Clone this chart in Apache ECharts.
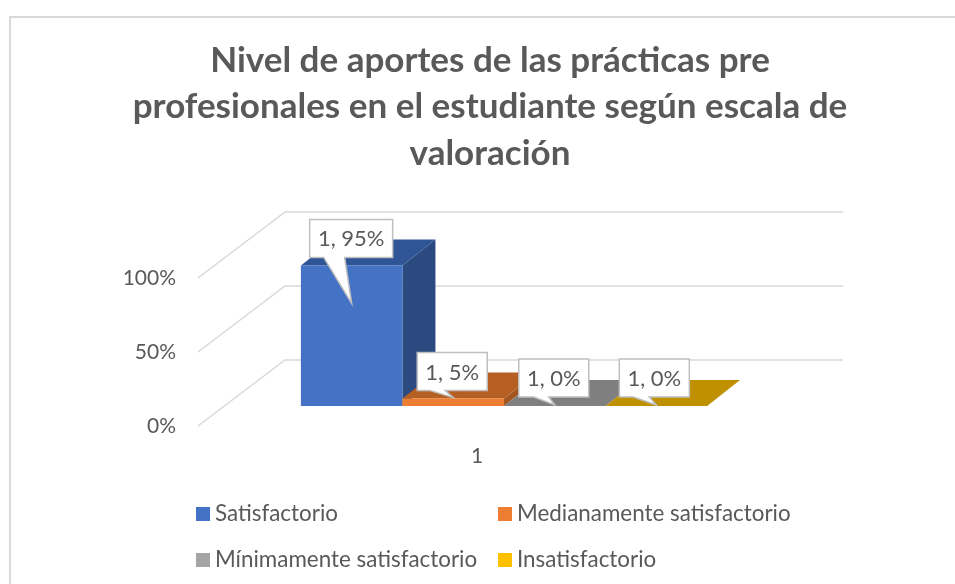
<!DOCTYPE html>
<html>
<head>
<meta charset="utf-8">
<style>
    html, body { margin: 0; padding: 0; background: #fff; overflow: hidden; }
    #chart { width: 955px; height: 584px; }
</style>
<script src="https://cdn.jsdelivr.net/npm/echarts@6/dist/echarts.min.js"></script>
</head>
<body>
<div id="chart"></div>
<script>
const titleText = 'Nivel de aportes de las prácticas pre\nprofesionales en el estudiante según escala de\nvaloración'
const categories = ['1']
const names = ['Satisfactorio', 'Medianamente satisfactorio', 'Mínimamente satisfactorio', 'Insatisfactorio']
const values = [95, 5, 0, 0]
const yTicks = [0, 50, 100]

// colores de cada cara: frente, tapa, lateral
const legendColors = ['#4472c4', '#ed7d31', '#a5a5a5', '#ffc000']
const frontColors = ['#4472c4', '#ed7d31', '#a5a5a5', '#ffc000']
const topColors = ['#2f5597', '#b65f22', '#7f7f7f', '#bf9000']
const sideColors = ['#2a4a80', '#a35620', '#6e6e6e', '#a67c00']

const textColor = '#595959'
const fontName = 'Lato'
const wall = { dx: 87, dy: -66 }   // fondo del piso
const barOffset = { dx: 27, dy: -20 }  // donde empiezan las barras
const barDepth = { dx: 33, dy: -26 }
const barRatio = 0.182
// globos: caida de la punta desde la tapa y caja relativa a la punta
const callouts = [
    { drop: 38, left: -42, top: -84, w: 83, h: 38, t0: -28, t1: -7 },
    { drop: -1, left: -36, top: -45, w: 70, h: 38, t0: -23, t1: -8 },
    { drop: -1, left: -36, top: -46, w: 70, h: 38, t0: -21, t1: -6 },
    { drop: -1, left: -37, top: -46, w: 70, h: 38, t0: -23, t1: -7 }
]

function wallItem(params, api) {
    const cs = params.coordSys
    const y = api.coord([0, api.value(1)])[1]
    return {
        type: 'polyline',
        shape: { points: [
            [cs.x, y],
            [cs.x + wall.dx, y + wall.dy],
            [cs.x + cs.width + wall.dx, y + wall.dy]
        ] },
        style: { stroke: '#d9d9d9', lineWidth: 1.5, fill: null }
    }
}

function barItem(idx) {
    return function (params, api) {
        const value = api.value(1)
        const band = api.size([1, 0])[0]
        const w = band * barRatio
        const c = api.coord([api.value(0), value])
        const base = api.coord([api.value(0), 0])
        const x0 = c[0] - 2 * w + idx * w + barOffset.dx
        const x1 = x0 + w
        const yTop = c[1] + barOffset.dy
        const yBase = base[1] + barOffset.dy
        const ddx = barDepth.dx, ddy = barDepth.dy
        const cb = callouts[idx]
        const tipX = x0 + w / 2
        const tipY = yTop + cb.drop
        const bx = tipX + cb.left, by = tipY + cb.top
        return {
            type: 'group',
            children: [
                { type: 'polygon', shape: { points: [[x1, yBase], [x1 + ddx, yBase + ddy], [x1 + ddx, yTop + ddy], [x1, yTop]] },
                    style: { fill: sideColors[idx] } },
                { type: 'polygon', shape: { points: [[x0, yTop], [x1, yTop], [x1 + ddx, yTop + ddy], [x0 + ddx, yTop + ddy]] },
                    style: { fill: topColors[idx] } },
                { type: 'rect', shape: { x: x0, y: yTop, width: w, height: yBase - yTop },
                    style: { fill: frontColors[idx] } },
                { type: 'polygon', z2: 10, shape: { points: [
                        [bx, by], [bx + cb.w, by], [bx + cb.w, by + cb.h],
                        [tipX + cb.t1, by + cb.h], [tipX, tipY], [tipX + cb.t0, by + cb.h],
                        [bx, by + cb.h]
                    ] },
                    style: { fill: '#fff', stroke: '#bfbfbf', lineWidth: 1.5 } },
                { type: 'text', z2: 11, x: bx + cb.w / 2, y: by + cb.h / 2 + 1,
                    style: { text: categories[0] + ', ' + value + '%', fill: textColor, font: '22px ' + fontName, align: 'center', verticalAlign: 'middle' } }
            ]
        }
    }
}

const chart = echarts.init(document.getElementById('chart'), null, { renderer: 'canvas' })
chart.setOption({
    animation: false,
    backgroundColor: '#fff',
    title: {
        text: titleText,
        left: 485,
        top: 32,
        textAlign: 'center',
        textStyle: { color: textColor, fontFamily: fontName, fontSize: 35, fontWeight: 'bold', lineHeight: 46.5 }
    },
    graphic: [{
        type: 'polyline',
        silent: true,
        shape: { points: [[10, 600], [10, 17], [960, 17]] },
        style: { fill: null, stroke: '#d9d9d9', lineWidth: 2 }
    }],
    legend: [
        {
            orient: 'vertical', left: 191, top: 498, itemGap: 24, itemWidth: 14, itemHeight: 14, itemStyle: { borderWidth: 0 },
            icon: 'rect', selectedMode: false, data: [names[0], names[2]],
            textStyle: { color: textColor, fontFamily: fontName, fontSize: 22.4, lineHeight: 20 }
        },
        {
            orient: 'vertical', left: 493, top: 498, itemGap: 24, itemWidth: 14, itemHeight: 14, itemStyle: { borderWidth: 0 },
            icon: 'rect', selectedMode: false, data: [names[1], names[3]],
            textStyle: { color: textColor, fontFamily: fontName, fontSize: 22.4, lineHeight: 20 }
        }
    ],
    grid: { left: 198, right: 199, top: 278, bottom: 158 },
    xAxis: {
        type: 'category',
        data: categories,
        axisLine: { show: false },
        axisTick: { show: false },
        axisLabel: { color: textColor, fontFamily: fontName, fontSize: 21, margin: 20 }
    },
    yAxis: {
        type: 'value',
        min: 0,
        max: 100,
        interval: 50,
        splitLine: { show: false },
        axisLine: { show: false },
        axisTick: { show: false },
        axisLabel: { color: textColor, fontFamily: fontName, fontSize: 21, margin: 22, padding: [4, 0, 0, 0], formatter: '{value}%' }
    },
    series: [
        {
            type: 'custom',
            name: 'pared',
            silent: true,
            clip: false,
            renderItem: wallItem,
            data: yTicks.map(v => [0, v])
        }
    ].concat(names.map((name, idx) => ({
        type: 'custom',
        name: name,
        clip: false,
        itemStyle: { color: legendColors[idx] },
        renderItem: barItem(idx),
        data: [[0, values[idx]]]
    })))
})
</script>
</body>
</html>
